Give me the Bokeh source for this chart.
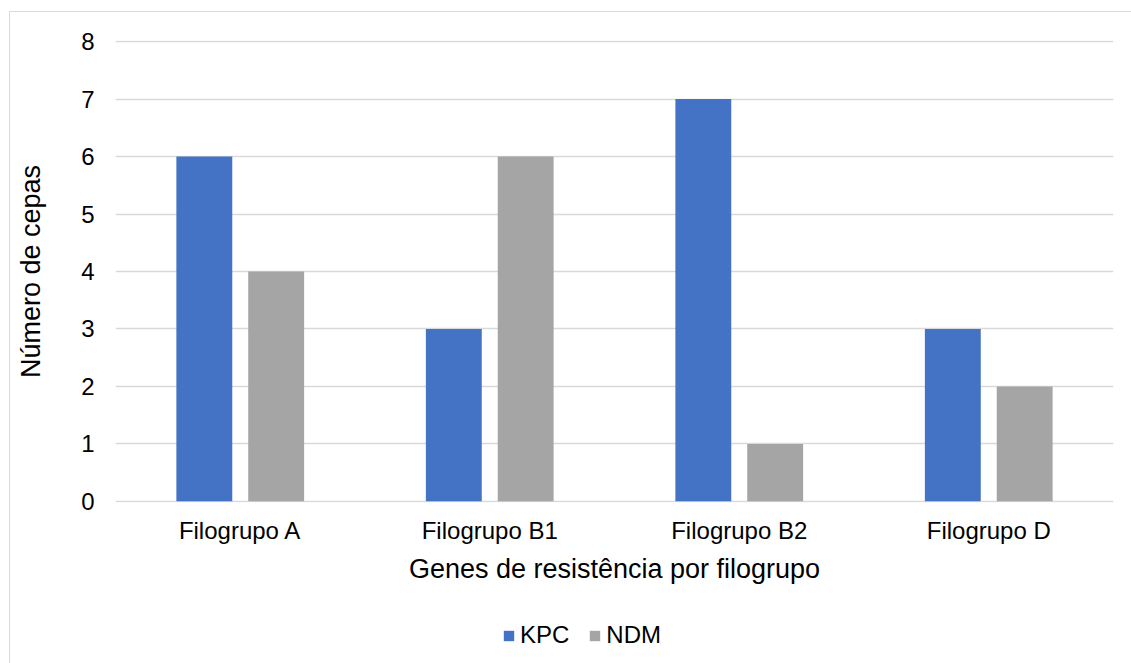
from bokeh.plotting import figure
from bokeh.layouts import column
from bokeh.models import (FactorRange, Range1d, FixedTicker, Legend, LegendItem,
                          ColumnDataSource)
from bokeh.transform import dodge
from bokeh.embed import file_html
from bokeh.resources import INLINE

categories = ["Filogrupo A", "Filogrupo B1", "Filogrupo B2", "Filogrupo D"]
kpc = [6, 3, 7, 3]
ndm = [4, 6, 1, 2]
series_names = ["KPC", "NDM"]
series_colors = ["#4472C4", "#A5A5A5"]
y_ticks = [0, 1, 2, 3, 4, 5, 6, 7, 8]

FONT = "Liberation Sans"
source = ColumnDataSource(data=dict(cat=categories, kpc=kpc, ndm=ndm))

W, H = 1131, 663
MAIN_H = 600
FL, FR, FT, FB = 115, 1113, 40, 502

bg = ("linear-gradient(#d9d9d9,#d9d9d9) 9px 11px / 1px 100% no-repeat, "
      "linear-gradient(#d9d9d9,#d9d9d9) 9px 11px / 100% 1px no-repeat, white")

fig = figure(frame_width=FR - FL, frame_height=FB - FT,
             x_range=FactorRange(*categories), y_range=Range1d(-0.02, 8.02),
             output_backend="svg", toolbar_location=None,
             min_border_left=FL, min_border_right=W - FR, min_border_top=FT,
             min_border_bottom=MAIN_H - FB)
fig.x_range.range_padding = 0
fig.outline_line_color = None
fig.background_fill_color = "white"
fig.border_fill_color = None

fig.vbar(x=dodge("cat", -0.144, range=fig.x_range), top="kpc", width=0.224,
         source=source, fill_color=series_colors[0], line_color=None)
fig.vbar(x=dodge("cat", 0.144, range=fig.x_range), top="ndm", width=0.224,
         source=source, fill_color=series_colors[1], line_color=None)

fig.xgrid.grid_line_color = None
fig.ygrid.grid_line_color = "#d9d9d9"
fig.ygrid.grid_line_width = 1.3
fig.yaxis.ticker = FixedTicker(ticks=y_ticks)

for ax in (fig.xaxis[0], fig.yaxis[0]):
    ax.axis_line_color = None
    ax.major_tick_line_color = None
    ax.minor_tick_line_color = None
    ax.major_tick_out = 0
    ax.major_tick_in = 0
    ax.major_label_text_font = FONT
    ax.major_label_text_font_size = "24px"
    ax.major_label_text_color = "#000000"
    ax.axis_label_text_font = FONT
    ax.axis_label_text_font_style = "normal"
    ax.axis_label_text_font_size = "27px"
    ax.axis_label_text_color = "#000000"

fig.yaxis.major_label_standoff = 21
fig.xaxis.major_label_standoff = 14
fig.xaxis.axis_label = "Genes de resistência por filogrupo"
fig.xaxis.axis_label_standoff = 7
fig.yaxis.axis_label = "Número de cepas"
fig.yaxis.axis_label_standoff = 32

# legend strip below the chart (its frame is aligned with the chart frame)
leg = figure(width=W, height=H - MAIN_H, x_range=Range1d(0, 1), y_range=Range1d(0, 1),
             x_axis_type=None, y_axis_type=None, output_backend="svg",
             toolbar_location=None, min_border=0)
leg.outline_line_color = None
leg.background_fill_color = None
leg.border_fill_color = None
swatches = []
for name, color in zip(series_names, series_colors):
    # swatch renderers sit outside the visible range; only their legend glyph shows
    swatches.append(leg.vbar(x=[-10], top=[-10], width=0.1, fill_color=color, line_color=None))

legend = Legend(items=[LegendItem(label=n, renderers=[r]) for n, r in zip(series_names, swatches)],
                orientation="horizontal", location=(387, 14),
                glyph_width=13, glyph_height=13, label_standoff=5, spacing=19,
                padding=0, margin=0, border_line_color=None,
                background_fill_color=None,
                label_text_font=FONT, label_text_font_size="24px",
                label_text_color="#000000")
leg.add_layout(legend, "center")

p = column(fig, leg, spacing=0, styles={"background": bg})

open("out.html", "w").write(file_html(p, INLINE))
